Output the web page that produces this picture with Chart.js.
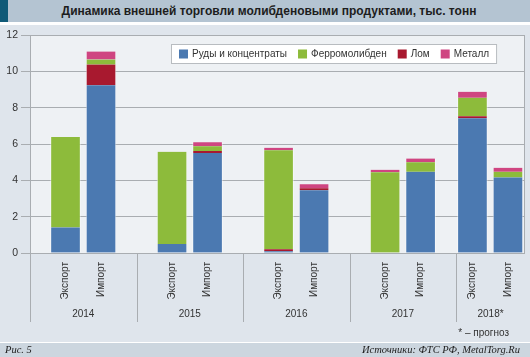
<!DOCTYPE html>
<html>
<head>
<meta charset="utf-8">
<script src="https://cdn.jsdelivr.net/npm/chart.js@4.4.1/dist/chart.umd.min.js"></script>
<style>
  html, body { margin:0; padding:0; width:530px; height:357px; overflow:hidden; background:#dfe5ec; font-family:"Liberation Sans", Arial, sans-serif; }
  #title { position:absolute; left:0; top:0; width:530px; height:22px; background:#b4c4d2; }
  #title .mark { position:absolute; left:0; top:0; width:8px; height:22px; background:#0f5a78; }
  #title .txt { position:absolute; left:8px; right:0; top:0; line-height:23px; text-align:center; font-weight:bold; font-size:12px; color:#1d1d1d; }
  #line1 { position:absolute; left:0; top:22px; width:530px; height:3px; background:#ffffff; }
  #wrap { position:absolute; left:0; top:25px; width:530px; height:317px; }
  #note { position:absolute; right:21px; top:327px; font-size:10px; color:#333; }
  #line2 { position:absolute; left:0; top:342px; width:530px; height:1px; background:#ffffff; }
  #foot { position:absolute; left:0; top:343px; width:530px; height:14px; background:#ccd6df; font-family:"Liberation Serif", "DejaVu Serif", serif; font-style:italic; font-size:10.5px; color:#222; line-height:14px; }
  #foot .l { position:absolute; left:5px; top:0; }
  #foot .r { position:absolute; right:10px; top:0; }
</style>
</head>
<body>
<div id="title"><div class="mark"></div><div class="txt">Динамика внешней торговли молибденовыми продуктами, тыс. тонн</div></div>
<div id="line1"></div>
<div id="wrap"><canvas id="c" width="530" height="317"></canvas></div>
<div id="note">* – прогноз</div>
<div id="line2"></div>
<div id="foot"><span class="l">Рис. 5</span><span class="r">Источники: ФТС РФ, MetalTorg.Ru</span></div>
<script>
// ---- data ----
const years = ['2014', '2015', '2016', '2017', '2018*'];
const flows = ['Экспорт', 'Импорт'];
// values per bar: 2014 exp, 2014 imp, 2015 exp, 2015 imp, ... 2018 exp, 2018 imp
const ores  = [1.41, 9.24, 0.49, 5.51, 0.10, 3.46, 0.00, 4.47, 7.42, 4.16];
const ferro = [4.98, 0.28, 5.08, 0.26, 5.46, 0.00, 4.45, 0.52, 1.01, 0.31];
const scrap = [0.00, 1.13, 0.00, 0.10, 0.10, 0.10, 0.00, 0.00, 0.11, 0.00];
const metal = [0.00, 0.44, 0.00, 0.23, 0.13, 0.22, 0.13, 0.21, 0.33, 0.22];
const yTicks = [0, 2, 4, 6, 8, 10, 12];
const seriesLabels = { ores:'Руды и концентраты', ferro:'Ферромолибден', scrap:'Лом', metal:'Металл' };

// ---- layout / style ----
const FONT = '"Liberation Sans", Arial, sans-serif';
const FS = 10;
const TXT = '#333333';
const GRID = '#a9adb1';
const SLOTS = 3;          // slot units per year group
const X_MAX = 13.94;      // visible width in slot units (last group is cut by the frame)
const LAST_SHIFT = 0.54;  // forecast group pushed against the right frame
const colors = { ores:'#4b79b1', ferro:'#8dbb3b', scrap:'#a8192f', metal:'#cf4581' };
const stackOrder = ['ores', 'scrap', 'ferro', 'metal'];
const legendOrder = ['ores', 'ferro', 'scrap', 'metal'];
const dataMap = { ores, ferro, scrap, metal };

function slot(i) {
  const g = Math.floor(i / flows.length), s = i % flows.length;
  return g * SLOTS + 1 + s - (g === years.length - 1 ? LAST_SHIFT : 0);
}
const barCount = years.length * flows.length;
const barIdx = Array.from({ length: barCount }, (_, i) => i);

const datasets = stackOrder.map(k => ({
  key: k,
  label: seriesLabels[k],
  data: dataMap[k].map((v, i) => ({ x: slot(i), y: v })),
  backgroundColor: colors[k],
  borderColor: 'rgba(255,255,255,0.45)',
  borderWidth: { left: 1, right: 1, top: 0, bottom: 0 },
  borderSkipped: false,
  barThickness: 30,
  stack: 'all'
}));

const plotBg = {
  id: 'plotBg',
  beforeDraw(chart) {
    const { ctx, chartArea: a } = chart;
    ctx.save();
    ctx.fillStyle = '#eef1f4';
    ctx.fillRect(a.left, a.top, a.right - a.left, a.bottom - a.top);
    ctx.restore();
  }
};

const decor = {
  id: 'decor',
  afterDraw(chart) {
    const { ctx, chartArea: a } = chart;
    const xs = chart.scales.x;
    ctx.save();
    ctx.strokeStyle = GRID;
    ctx.lineWidth = 1;
    // right frame
    const rx = Math.round(a.right) - 0.5;
    ctx.beginPath(); ctx.moveTo(rx, a.top); ctx.lineTo(rx, a.bottom); ctx.stroke();
    // group separators below axis
    const seps = years.map((_, g) => xs.getPixelForValue(g * SLOTS));
    const sepBottom = 297;
    seps.forEach(px => {
      const x = Math.round(px) + 0.5;
      ctx.beginPath(); ctx.moveTo(x, a.bottom); ctx.lineTo(x, sepBottom); ctx.stroke();
    });
    // year labels
    ctx.fillStyle = TXT;
    ctx.font = FS + 'px ' + FONT;
    ctx.textAlign = 'center';
    ctx.textBaseline = 'middle';
    years.forEach((y, g) => {
      const l = seps[g];
      const r = g < years.length - 1 ? seps[g + 1] : a.right;
      ctx.fillText(y, (l + r) / 2, 289);
    });
    // legend
    ctx.font = FS + 'px ' + FONT;
    const sq = 9, gapIn = 4, gapOut = 11;
    const lx0 = 171, ly0 = 19, lh = 20;
    let x = lx0 + 8;
    const items = legendOrder.map(k => {
      const w = ctx.measureText(seriesLabels[k]).width;
      const it = { k, x, w };
      x += sq + gapIn + w + gapOut;
      return it;
    });
    const lw = (x - gapOut + 8) - lx0;
    ctx.fillStyle = '#ffffff';
    ctx.fillRect(lx0, ly0, lw, lh);
    ctx.strokeStyle = '#b8bcc0';
    ctx.strokeRect(lx0 + 0.5, ly0 + 0.5, lw - 1, lh - 1);
    const cy = ly0 + lh / 2;
    items.forEach(it => {
      ctx.fillStyle = colors[it.k];
      ctx.fillRect(it.x, cy - sq / 2, sq, sq);
      ctx.fillStyle = TXT;
      ctx.textAlign = 'left';
      ctx.textBaseline = 'middle';
      ctx.fillText(seriesLabels[it.k], it.x + sq + gapIn, cy + 0.5);
    });
    ctx.restore();
  }
};

new Chart(document.getElementById('c'), {
  type: 'bar',
  data: { datasets },
  options: {
    responsive: false,
    animation: false,
    layout: { padding: { top: 10, right: 5, left: 0, bottom: 0 } },
    plugins: { legend: { display: false }, tooltip: { enabled: false } },
    scales: {
      x: {
        type: 'linear',
        min: 0,
        max: X_MAX,
        offset: false,
        grid: { display: false, drawTicks: false, offset: false },
        border: { display: false },
        afterBuildTicks: s => { s.ticks = barIdx.map(i => ({ value: slot(i) })); },
        afterFit: s => { s.height = 89; s.paddingLeft = 0; s.paddingRight = 0; },
        ticks: {
          autoSkip: false,
          minRotation: 90,
          maxRotation: 90,
          padding: 9,
          color: TXT,
          font: { size: FS, family: FONT },
          callback: (v, i) => flows[i % flows.length]
        }
      },
      y: {
        min: 0,
        max: 12,
        stacked: true,
        afterBuildTicks: s => { s.ticks = yTicks.map(v => ({ value: v })); },
        afterFit: s => { s.width = 30; s.paddingTop = 0; s.paddingBottom = 0; },
        grid: { color: GRID, lineWidth: 1, tickLength: 9 },
        border: { display: true, color: GRID },
        ticks: { padding: 3, color: TXT, font: { size: FS + 0.5, family: FONT } }
      }
    }
  },
  plugins: [plotBg, decor]
});
</script>
</body>
</html>
